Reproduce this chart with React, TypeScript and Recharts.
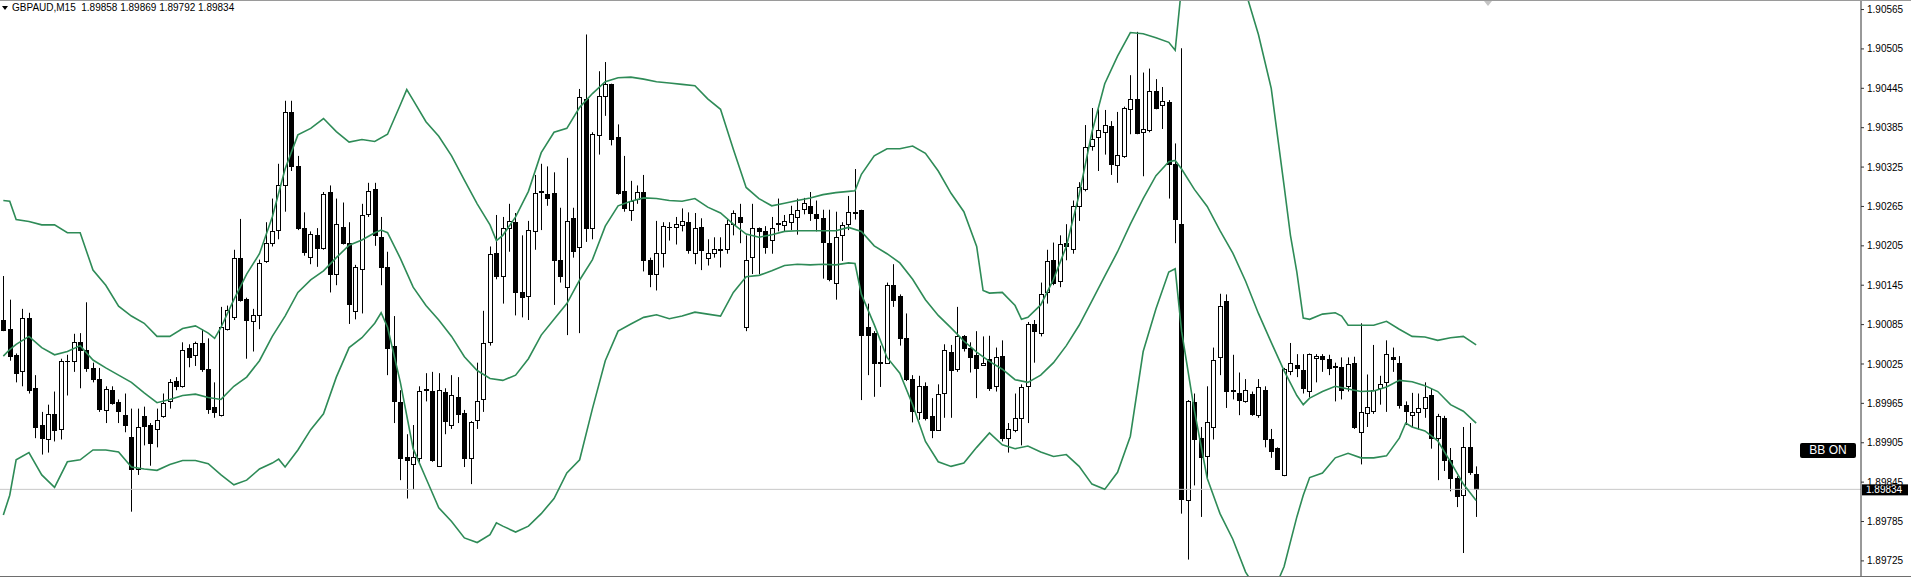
import React from 'react';
import { ComposedChart, Bar, Line, XAxis, YAxis, ReferenceLine } from 'recharts';

const symbol = 'GBPAUD,M15';

// M15 candles, oldest first
const opens = [
  1.90092, 1.90079, 1.90039, 1.90015, 1.90095, 1.89988, 1.89932, 1.89910, 1.89949, 1.89926,
  1.90029, 1.90030, 1.90058, 1.90046, 1.90019, 1.90002, 1.89955, 1.89986, 1.89967, 1.89947,
  1.89914, 1.89865, 1.89945, 1.89932, 1.89926, 1.89945, 1.89968, 1.89999, 1.89991, 1.90050,
  1.90039, 1.90057, 1.90017, 1.89960, 1.89947, 1.90078, 1.90096, 1.90186, 1.90124, 1.90091,
  1.90099, 1.90182, 1.90210, 1.90229, 1.90297, 1.90409, 1.90326, 1.90232, 1.90188, 1.90221,
  1.90201, 1.90287, 1.90162, 1.90233, 1.90209, 1.90106, 1.90170, 1.90253, 1.90291, 1.90218,
  1.90172, 1.90052, 1.89967, 1.89884, 1.89872, 1.89882, 1.89987, 1.89984, 1.89870, 1.89983,
  1.89932, 1.89975, 1.89951, 1.89882, 1.89940, 1.89971, 1.90058, 1.90194, 1.90159, 1.90232,
  1.90242, 1.90134, 1.90128, 1.90228, 1.90287, 1.90284, 1.90285, 1.90184, 1.90143, 1.90247,
  1.90203, 1.90428, 1.90232, 1.90374, 1.90433, 1.90451, 1.90371, 1.90289, 1.90260, 1.90276,
  1.90287, 1.90183, 1.90162, 1.90194, 1.90233, 1.90233, 1.90237, 1.90242, 1.90194, 1.90233,
  1.90186, 1.90194, 1.90200, 1.90200, 1.90239, 1.90249, 1.90082, 1.90188, 1.90232, 1.90227,
  1.90214, 1.90239, 1.90236, 1.90242, 1.90249, 1.90261, 1.90265, 1.90253, 1.90247, 1.90210,
  1.90149, 1.90221, 1.90239, 1.90256, 1.90259, 1.90081, 1.90072, 1.90028, 1.90027, 1.90146,
  1.90128, 1.90065, 1.90002, 1.89952, 1.89992, 1.89946, 1.89925, 1.89981, 1.90043, 1.90018,
  1.90067, 1.90050, 1.90039, 1.90023, 1.90033, 1.89991, 1.90037, 1.89912, 1.89925, 1.89942,
  1.89991, 1.90086, 1.90072, 1.90134, 1.90183, 1.90151, 1.90209, 1.90200, 1.90266, 1.90292,
  1.90357, 1.90371, 1.90379, 1.90388, 1.90328, 1.90342, 1.90413, 1.90428, 1.90378, 1.90381,
  1.90441, 1.90420, 1.90424, 1.90330, 1.90239, 1.89818, 1.89967, 1.89912, 1.89885, 1.89929,
  1.90036, 1.90121, 1.89984, 1.89981, 1.89968, 1.89979, 1.89947, 1.89986, 1.89911, 1.89897,
  1.89856, 1.90015, 1.90023, 1.90016, 1.89984, 1.90034, 1.90037, 1.90033, 1.90022, 1.90020,
  1.89991, 1.90027, 1.89921, 1.89951, 1.89953, 1.89988, 1.89997, 1.90036, 1.90027, 1.89963,
  1.89947, 1.89952, 1.89958, 1.89977, 1.89912, 1.89942, 1.89879, 1.89852, 1.89825, 1.89898,
  1.89858,
];

const highs = [
  1.90159, 1.90123, 1.90041, 1.90109, 1.90103, 1.90008, 1.89952, 1.89963, 1.89983, 1.90033,
  1.90039, 1.90071, 1.90072, 1.90119, 1.90027, 1.90019, 1.89991, 1.89991, 1.89971, 1.89980,
  1.89957, 1.89957, 1.89960, 1.89935, 1.89957, 1.89980, 1.90002, 1.90005, 1.90058, 1.90055,
  1.90059, 1.90078, 1.90064, 1.89997, 1.90112, 1.90114, 1.90199, 1.90246, 1.90126, 1.90109,
  1.90184, 1.90241, 1.90277, 1.90330, 1.90426, 1.90426, 1.90342, 1.90256, 1.90227, 1.90232,
  1.90287, 1.90297, 1.90277, 1.90271, 1.90241, 1.90176, 1.90269, 1.90301, 1.90301, 1.90249,
  1.90196, 1.90098, 1.89985, 1.89918, 1.89932, 1.89991, 1.90011, 1.90013, 1.90011, 1.89988,
  1.90008, 1.90005, 1.89955, 1.89938, 1.90027, 1.90106, 1.90204, 1.90252, 1.90249, 1.90269,
  1.90255, 1.90221, 1.90243, 1.90313, 1.90330, 1.90326, 1.90317, 1.90263, 1.90339, 1.90263,
  1.90444, 1.90527, 1.90378, 1.90471, 1.90485, 1.90452, 1.90390, 1.90342, 1.90304, 1.90297,
  1.90313, 1.90187, 1.90243, 1.90241, 1.90241, 1.90249, 1.90262, 1.90256, 1.90255, 1.90247,
  1.90215, 1.90218, 1.90218, 1.90245, 1.90259, 1.90269, 1.90221, 1.90269, 1.90233, 1.90235,
  1.90249, 1.90277, 1.90252, 1.90266, 1.90277, 1.90278, 1.90287, 1.90274, 1.90260, 1.90260,
  1.90257, 1.90241, 1.90281, 1.90322, 1.90260, 1.90117, 1.90075, 1.90053, 1.90149, 1.90177,
  1.90131, 1.90102, 1.90008, 1.90007, 1.89997, 1.89973, 1.89994, 1.90055, 1.90054, 1.90112,
  1.90069, 1.90058, 1.90075, 1.90067, 1.90068, 1.90050, 1.90061, 1.89935, 1.89980, 1.89994,
  1.90089, 1.90092, 1.90149, 1.90199, 1.90210, 1.90221, 1.90238, 1.90274, 1.90302, 1.90389,
  1.90415, 1.90413, 1.90412, 1.90395, 1.90409, 1.90417, 1.90465, 1.90531, 1.90469, 1.90475,
  1.90459, 1.90447, 1.90427, 1.90361, 1.90506, 1.89970, 1.89980, 1.89929, 1.89991, 1.90050,
  1.90132, 1.90131, 1.90039, 1.90012, 1.90002, 1.89983, 1.90002, 1.89991, 1.89926, 1.89898,
  1.90019, 1.90057, 1.90040, 1.90040, 1.90041, 1.90040, 1.90040, 1.90039, 1.90027, 1.90035,
  1.90035, 1.90036, 1.90087, 1.90009, 1.90054, 1.90007, 1.90061, 1.90050, 1.90037, 1.89968,
  1.89981, 1.89980, 1.89997, 1.89988, 1.89949, 1.89946, 1.89897, 1.89854, 1.89929, 1.89935,
  1.89869,
];

const lows = [
  1.90075, 1.90030, 1.89997, 1.89991, 1.89980, 1.89912, 1.89887, 1.89890, 1.89907, 1.89910,
  1.89977, 1.90013, 1.89988, 1.90013, 1.89997, 1.89952, 1.89935, 1.89963, 1.89935, 1.89921,
  1.89800, 1.89856, 1.89901, 1.89870, 1.89898, 1.89943, 1.89957, 1.89985, 1.89989, 1.90020,
  1.90022, 1.90013, 1.89949, 1.89943, 1.89945, 1.90076, 1.90092, 1.90120, 1.90033, 1.90044,
  1.90078, 1.90179, 1.90204, 1.90215, 1.90257, 1.90319, 1.90229, 1.90190, 1.90177, 1.90173,
  1.90199, 1.90134, 1.90145, 1.90207, 1.90086, 1.90093, 1.90102, 1.90249, 1.90205, 1.90145,
  1.90008, 1.89935, 1.89848, 1.89820, 1.89834, 1.89873, 1.89968, 1.89876, 1.89868, 1.89918,
  1.89926, 1.89935, 1.89868, 1.89842, 1.89926, 1.89952, 1.90053, 1.90154, 1.90117, 1.90196,
  1.90099, 1.90096, 1.90092, 1.90199, 1.90229, 1.90266, 1.90115, 1.90149, 1.90069, 1.90187,
  1.90072, 1.90211, 1.90215, 1.90344, 1.90403, 1.90358, 1.90283, 1.90257, 1.90243, 1.90269,
  1.90166, 1.90142, 1.90137, 1.90172, 1.90213, 1.90207, 1.90227, 1.90193, 1.90177, 1.90168,
  1.90175, 1.90187, 1.90172, 1.90193, 1.90221, 1.90209, 1.90075, 1.90162, 1.90162, 1.90193,
  1.90193, 1.90227, 1.90227, 1.90229, 1.90222, 1.90253, 1.90243, 1.90227, 1.90155, 1.90151,
  1.90123, 1.90182, 1.90229, 1.90245, 1.89970, 1.90008, 1.89975, 1.89990, 1.90025, 1.90112,
  1.90053, 1.89999, 1.89936, 1.89940, 1.89939, 1.89912, 1.89924, 1.89943, 1.89943, 1.90013,
  1.90044, 1.90012, 1.89973, 1.90022, 1.89984, 1.89983, 1.89907, 1.89890, 1.89921, 1.89901,
  1.89935, 1.90027, 1.90067, 1.90117, 1.90145, 1.90142, 1.90183, 1.90193, 1.90243, 1.90288,
  1.90350, 1.90319, 1.90344, 1.90313, 1.90301, 1.90339, 1.90375, 1.90375, 1.90311, 1.90378,
  1.90413, 1.90383, 1.90277, 1.90209, 1.89797, 1.89727, 1.89840, 1.89792, 1.89851, 1.89910,
  1.90008, 1.89958, 1.89971, 1.89947, 1.89966, 1.89946, 1.89943, 1.89898, 1.89882, 1.89864,
  1.89854, 1.90008, 1.90005, 1.89980, 1.89974, 1.89997, 1.90013, 1.90008, 1.89968, 1.89971,
  1.89983, 1.89926, 1.89872, 1.89929, 1.89949, 1.89963, 1.89952, 1.90013, 1.89957, 1.89932,
  1.89929, 1.89925, 1.89943, 1.89896, 1.89848, 1.89862, 1.89831, 1.89807, 1.89737, 1.89856,
  1.89792,
];

const closes = [
  1.90077, 1.90037, 1.90012, 1.90095, 1.89986, 1.89929, 1.89912, 1.89949, 1.89924, 1.90029,
  1.90030, 1.90058, 1.90047, 1.90019, 1.90002, 1.89957, 1.89987, 1.89966, 1.89953, 1.89932,
  1.89865, 1.89929, 1.89931, 1.89904, 1.89940, 1.89966, 1.89997, 1.89991, 1.90046, 1.90036,
  1.90057, 1.90017, 1.89957, 1.89952, 1.90081, 1.90107, 1.90186, 1.90123, 1.90092, 1.90099,
  1.90179, 1.90210, 1.90227, 1.90297, 1.90409, 1.90326, 1.90232, 1.90196, 1.90223, 1.90202,
  1.90284, 1.90162, 1.90238, 1.90210, 1.90117, 1.90172, 1.90252, 1.90289, 1.90221, 1.90173,
  1.90050, 1.89968, 1.89882, 1.89878, 1.89883, 1.89984, 1.89986, 1.89879, 1.89986, 1.89938,
  1.89977, 1.89949, 1.89882, 1.89936, 1.89968, 1.90057, 1.90193, 1.90159, 1.90232, 1.90243,
  1.90134, 1.90127, 1.90229, 1.90285, 1.90288, 1.90278, 1.90183, 1.90159, 1.90243, 1.90197,
  1.90431, 1.90232, 1.90375, 1.90433, 1.90452, 1.90368, 1.90285, 1.90263, 1.90274, 1.90287,
  1.90183, 1.90162, 1.90194, 1.90235, 1.90234, 1.90239, 1.90243, 1.90199, 1.90232, 1.90199,
  1.90194, 1.90200, 1.90199, 1.90239, 1.90255, 1.90241, 1.90184, 1.90232, 1.90228, 1.90203,
  1.90232, 1.90240, 1.90243, 1.90253, 1.90260, 1.90270, 1.90255, 1.90248, 1.90211, 1.90154,
  1.90218, 1.90236, 1.90257, 1.90255, 1.90069, 1.90069, 1.90026, 1.90026, 1.90145, 1.90123,
  1.90065, 1.90002, 1.89953, 1.89992, 1.89943, 1.89925, 1.89979, 1.90046, 1.90016, 1.90068,
  1.90050, 1.90035, 1.90019, 1.90027, 1.89988, 1.90036, 1.89912, 1.89926, 1.89943, 1.89990,
  1.90086, 1.90076, 1.90131, 1.90182, 1.90149, 1.90208, 1.90204, 1.90265, 1.90294, 1.90356,
  1.90368, 1.90381, 1.90389, 1.90330, 1.90344, 1.90415, 1.90428, 1.90377, 1.90383, 1.90441,
  1.90415, 1.90426, 1.90329, 1.90246, 1.89820, 1.89968, 1.89910, 1.89884, 1.89936, 1.90031,
  1.90114, 1.89984, 1.89985, 1.89970, 1.89985, 1.89949, 1.89990, 1.89910, 1.89893, 1.89865,
  1.90017, 1.90027, 1.90019, 1.89988, 1.90040, 1.90037, 1.90033, 1.90019, 1.90021, 1.89986,
  1.90025, 1.89929, 1.89952, 1.89960, 1.89986, 1.89995, 1.90040, 1.90033, 1.89963, 1.89953,
  1.89952, 1.89958, 1.89975, 1.89912, 1.89945, 1.89879, 1.89851, 1.89824, 1.89898, 1.89861,
  1.89834,
];

// Bollinger bands, [bar index, price]
const upperBand: [number, number][] = [
  [0, 1.90274], [1, 1.90273], [2, 1.90245], [4, 1.90242], [6, 1.90237], [8, 1.90237], [10, 1.90225],
  [12, 1.90225], [14, 1.90168], [16, 1.90145], [18, 1.90113], [20, 1.90098], [22, 1.90087], [24, 1.90067],
  [26, 1.90067], [28, 1.90079], [30, 1.90083], [32, 1.90072], [33, 1.90064], [34, 1.90081], [36, 1.90123],
  [38, 1.90162], [40, 1.90193], [42, 1.90249], [44, 1.90322], [46, 1.90374], [48, 1.90384], [50, 1.90399],
  [52, 1.90379], [54, 1.90363], [56, 1.90367], [58, 1.90364], [60, 1.90375], [62, 1.90420], [63, 1.90443],
  [64, 1.90427], [66, 1.90394], [68, 1.90372], [70, 1.90342], [72, 1.90305], [74, 1.90269], [76, 1.90237],
  [77, 1.90213], [78, 1.90221], [80, 1.90249], [82, 1.90288], [84, 1.90347], [86, 1.90378], [88, 1.90384],
  [90, 1.90416], [92, 1.90437], [94, 1.90455], [96, 1.90461], [98, 1.90462], [100, 1.90459], [102, 1.90455],
  [104, 1.90453], [106, 1.90451], [108, 1.90449], [110, 1.90429], [112, 1.90413], [114, 1.90352], [116, 1.90294],
  [118, 1.90277], [120, 1.90266], [122, 1.90270], [124, 1.90274], [126, 1.90278], [128, 1.90283], [130, 1.90286],
  [132, 1.90288], [133, 1.90289], [134, 1.90314], [136, 1.90342], [138, 1.90353], [140, 1.90353], [142, 1.90357],
  [144, 1.90346], [146, 1.90319], [148, 1.90285], [150, 1.90257], [152, 1.90204], [153, 1.90137], [154, 1.90133],
  [156, 1.90134], [158, 1.90114], [159, 1.90093], [160, 1.90096], [162, 1.90115], [164, 1.90154], [166, 1.90204],
  [168, 1.90283], [170, 1.90378], [172, 1.90452], [174, 1.90494], [176, 1.90530], [178, 1.90528], [180, 1.90522],
  [182, 1.90515], [183, 1.90503], [184, 1.90600], [186, 1.90640], [188, 1.90690], [190, 1.90665], [192, 1.90630],
  [194, 1.90592], [196, 1.90527], [198, 1.90445], [200, 1.90297], [201, 1.90221], [202, 1.90165], [203, 1.90095],
  [204, 1.90093], [206, 1.90101], [208, 1.90103], [209, 1.90098], [210, 1.90084], [212, 1.90084], [214, 1.90084],
  [216, 1.90090], [218, 1.90078], [220, 1.90067], [222, 1.90066], [224, 1.90061], [226, 1.90065], [228, 1.90067],
  [230, 1.90054],
];

const middleBand: [number, number][] = [
  [0, 1.90037], [1, 1.90047], [2, 1.90055], [4, 1.90067], [6, 1.90050], [8, 1.90039], [10, 1.90044],
  [12, 1.90053], [14, 1.90031], [16, 1.90019], [18, 1.90008], [20, 1.89997], [22, 1.89981], [24, 1.89966],
  [26, 1.89971], [28, 1.89977], [30, 1.89979], [32, 1.89974], [34, 1.89971], [36, 1.89991], [38, 1.90005],
  [40, 1.90030], [42, 1.90067], [44, 1.90098], [46, 1.90134], [48, 1.90153], [50, 1.90167], [52, 1.90187],
  [54, 1.90206], [56, 1.90214], [58, 1.90225], [59, 1.90229], [60, 1.90225], [62, 1.90186], [64, 1.90142],
  [66, 1.90114], [68, 1.90092], [70, 1.90067], [72, 1.90036], [74, 1.90015], [76, 1.90003], [78, 1.90000],
  [80, 1.90008], [82, 1.90033], [84, 1.90069], [86, 1.90093], [88, 1.90117], [90, 1.90153], [92, 1.90184],
  [94, 1.90235], [96, 1.90266], [98, 1.90273], [100, 1.90278], [102, 1.90277], [104, 1.90274], [106, 1.90273],
  [108, 1.90277], [110, 1.90264], [112, 1.90255], [114, 1.90238], [116, 1.90223], [118, 1.90218], [120, 1.90222],
  [122, 1.90227], [124, 1.90228], [126, 1.90228], [128, 1.90228], [130, 1.90228], [132, 1.90233], [134, 1.90227],
  [136, 1.90205], [138, 1.90193], [140, 1.90179], [142, 1.90154], [144, 1.90123], [146, 1.90099], [148, 1.90080],
  [150, 1.90060], [152, 1.90043], [154, 1.90029], [156, 1.90017], [158, 1.90001], [160, 1.89997], [162, 1.90008],
  [164, 1.90027], [166, 1.90053], [168, 1.90084], [170, 1.90121], [172, 1.90159], [174, 1.90196], [176, 1.90238],
  [178, 1.90277], [180, 1.90312], [182, 1.90333], [183, 1.90335], [184, 1.90322], [186, 1.90291], [188, 1.90265],
  [190, 1.90228], [192, 1.90194], [194, 1.90151], [196, 1.90102], [198, 1.90058], [200, 1.90015], [202, 1.89977],
  [203, 1.89963], [204, 1.89973], [206, 1.89983], [208, 1.89991], [210, 1.89987], [212, 1.89983], [214, 1.89984],
  [216, 1.89990], [218, 1.90000], [220, 1.89998], [222, 1.89992], [224, 1.89983], [226, 1.89963], [228, 1.89953],
  [230, 1.89935],
];

const lowerBand: [number, number][] = [
  [0, 1.89795], [1, 1.89825], [2, 1.89879], [4, 1.89890], [6, 1.89856], [8, 1.89837], [10, 1.89876],
  [12, 1.89879], [14, 1.89894], [16, 1.89894], [18, 1.89891], [20, 1.89868], [22, 1.89865], [24, 1.89863],
  [26, 1.89872], [28, 1.89878], [30, 1.89878], [32, 1.89873], [34, 1.89856], [36, 1.89841], [38, 1.89848],
  [40, 1.89865], [42, 1.89874], [43, 1.89880], [44, 1.89868], [46, 1.89894], [48, 1.89925], [50, 1.89949],
  [52, 1.90005], [54, 1.90050], [56, 1.90065], [58, 1.90087], [59, 1.90103], [60, 1.90081], [62, 1.89997],
  [64, 1.89896], [66, 1.89851], [68, 1.89806], [70, 1.89785], [72, 1.89760], [74, 1.89753], [76, 1.89765],
  [77, 1.89783], [78, 1.89778], [80, 1.89769], [82, 1.89778], [84, 1.89797], [86, 1.89820], [88, 1.89859],
  [90, 1.89879], [92, 1.89957], [94, 1.90030], [96, 1.90075], [98, 1.90086], [100, 1.90096], [102, 1.90100],
  [104, 1.90094], [106, 1.90098], [108, 1.90104], [110, 1.90101], [112, 1.90098], [114, 1.90134], [116, 1.90158],
  [118, 1.90160], [120, 1.90167], [122, 1.90175], [124, 1.90177], [126, 1.90176], [128, 1.90177], [130, 1.90176],
  [132, 1.90179], [133, 1.90178], [134, 1.90131], [136, 1.90085], [138, 1.90035], [140, 1.90011], [142, 1.89963],
  [144, 1.89907], [146, 1.89876], [148, 1.89869], [150, 1.89874], [152, 1.89898], [154, 1.89920], [156, 1.89902],
  [158, 1.89896], [160, 1.89900], [162, 1.89891], [164, 1.89884], [166, 1.89887], [168, 1.89869], [170, 1.89842],
  [172, 1.89834], [174, 1.89860], [176, 1.89915], [178, 1.90044], [180, 1.90109], [182, 1.90165], [183, 1.90170],
  [184, 1.90075], [186, 1.89954], [188, 1.89851], [190, 1.89797], [192, 1.89758], [194, 1.89708], [196, 1.89677],
  [198, 1.89671], [200, 1.89716], [202, 1.89792], [203, 1.89825], [204, 1.89852], [206, 1.89859], [208, 1.89882],
  [210, 1.89889], [212, 1.89882], [214, 1.89882], [216, 1.89885], [218, 1.89912], [219, 1.89935], [220, 1.89929],
  [222, 1.89923], [224, 1.89908], [226, 1.89876], [228, 1.89842], [230, 1.89817],
];

const priceTicks = [
  1.89725, 1.89785, 1.89845, 1.89905, 1.89965, 1.90025, 1.90085, 1.90145,
  1.90205, 1.90265, 1.90325, 1.90385, 1.90445, 1.90505, 1.90565,
];

const FONT = "'Liberation Sans', Arial, sans-serif";
const BAND_COLOR = '#2e8b57';

const rows: any[] = opens.map((o, i) => ({
  i,
  o,
  h: highs[i],
  l: lows[i],
  c: closes[i],
  range: [lows[i], highs[i]],
}));
const bandSets: [string, [number, number][]][] = [['up', upperBand], ['mid', middleBand], ['low', lowerBand]];
bandSets.forEach(([key, pts]) => pts.forEach(([i, v]) => { rows[i][key] = v; }));

const last = rows[rows.length - 1];

const Candle = (props: any) => {
  const { x, y, width, height, payload } = props;
  const c = Math.round(x + width / 2);
  const top = Math.min(y, y + height);
  const bot = Math.max(y, y + height);
  const span = payload.h - payload.l;
  const py = (p: number) => (span === 0 ? top : top + ((payload.h - p) / span) * (bot - top));
  const yo = py(payload.o);
  const yc = py(payload.c);
  const up = payload.c >= payload.o;
  const bTop = Math.round(Math.min(yo, yc));
  const bBot = Math.round(Math.max(yo, yc));
  return (
    <g>
      <line x1={c + 0.5} x2={c + 0.5} y1={top} y2={bot} stroke="#000" strokeWidth={1} />
      {bBot - bTop < 1 ? (
        <line x1={c - 2} x2={c + 3} y1={bTop + 0.5} y2={bTop + 0.5} stroke="#000" strokeWidth={1} />
      ) : (
        <rect x={c - 1.5} y={bTop + 0.5} width={4} height={bBot - bTop} fill={up ? '#fff' : '#000'} stroke="#000" strokeWidth={1} />
      )}
    </g>
  );
};

const PriceTag = (props: any) => {
  const vb = props.viewBox || {};
  const x = (vb.x || 0) + (vb.width || 0) + 1;
  const y = vb.y || 0;
  return (
    <g>
      <rect x={x} y={y - 5} width={46} height={11} fill="#000" />
      <text x={x + 4} y={y + 4} fill="#fff" fontSize={10} fontFamily={FONT}>
        {last.c.toFixed(5)}
      </text>
    </g>
  );
};

export default function App() {
  return (
    <div
      style={{
        position: 'absolute',
        left: 0,
        top: 0,
        width: 1911,
        height: 577,
        boxSizing: 'border-box',
        borderTop: '1px solid #9a9a9a',
        borderBottom: '1px solid #6e6e6e',
        background: '#fff',
        overflow: 'hidden',
      }}
    >
      <ComposedChart width={1911} height={575} data={rows} margin={{ top: 0, right: 0, bottom: 0, left: 0 }}>
        <XAxis dataKey="i" type="number" domain={[-0.52, 290.1]} allowDataOverflow hide />
        <YAxis
          orientation="right"
          type="number"
          domain={[1.89702, 1.90578]}
          allowDataOverflow
          ticks={priceTicks}
          interval={0}
          tickFormatter={(v: number) => v.toFixed(5)}
          width={50}
          tickSize={3}
          tickMargin={3}
          axisLine={{ stroke: '#333' }}
          tickLine={{ stroke: '#333' }}
          tick={{ fontSize: 10, fill: '#000', fontFamily: FONT }}
        />
        <ReferenceLine y={last.c} stroke="#c8c8c8" strokeWidth={1} label={<PriceTag />} />
        <Line dataKey="up" stroke={BAND_COLOR} strokeWidth={1.6} dot={false} connectNulls isAnimationActive={false} />
        <Line dataKey="mid" stroke={BAND_COLOR} strokeWidth={1.6} dot={false} connectNulls isAnimationActive={false} />
        <Line dataKey="low" stroke={BAND_COLOR} strokeWidth={1.6} dot={false} connectNulls isAnimationActive={false} />
        <Bar dataKey="range" barSize={4} shape={Candle} isAnimationActive={false} />
      </ComposedChart>

      <div
        style={{
          position: 'absolute',
          left: 2,
          top: 1,
          fontFamily: FONT,
          fontSize: 10,
          lineHeight: '12px',
          color: '#000',
          whiteSpace: 'pre',
        }}
      >
        <span
          style={{
            display: 'inline-block',
            width: 0,
            height: 0,
            borderLeft: '3px solid transparent',
            borderRight: '3px solid transparent',
            borderTop: '4px solid #000',
            marginRight: 4,
            verticalAlign: 'middle',
          }}
        />
        {`${symbol}  ${last.o.toFixed(5)} ${last.h.toFixed(5)} ${last.l.toFixed(5)} ${last.c.toFixed(5)}`}
      </div>

      <div
        style={{
          position: 'absolute',
          left: 1484,
          top: 0,
          width: 0,
          height: 0,
          borderLeft: '4px solid transparent',
          borderRight: '4px solid transparent',
          borderTop: '5px solid #c4c4c4',
        }}
      />

      <div
        style={{
          position: 'absolute',
          left: 1800,
          top: 442,
          width: 56,
          height: 15,
          background: '#000',
          borderRadius: 2,
          color: '#fff',
          fontFamily: FONT,
          fontSize: 12,
          lineHeight: '15px',
          textAlign: 'center',
        }}
      >
        BB ON
      </div>
    </div>
  );
}
